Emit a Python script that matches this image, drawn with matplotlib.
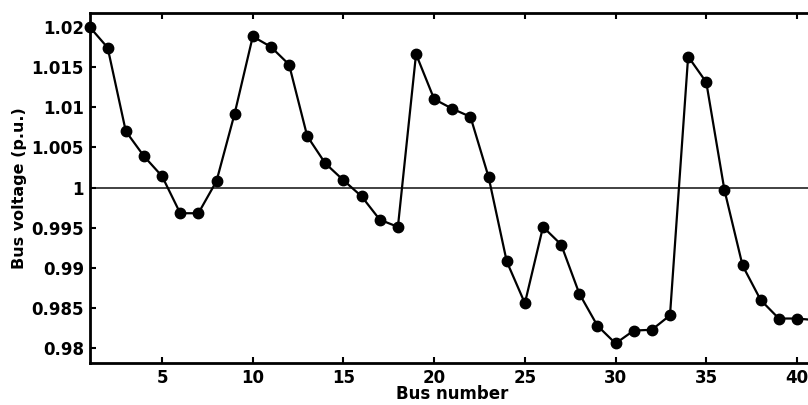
import matplotlib.pyplot as plt
import numpy as np

# bus voltage profile
bus = np.arange(1, 42)
voltage = [1.0200, 1.0174, 1.0070, 1.0039, 1.0014, 0.9968, 0.9968, 1.0008, 1.0092, 1.0188,
           1.0175, 1.0153, 1.0064, 1.0030, 1.0009, 0.9989, 0.9960, 0.9951, 1.0166, 1.0110,
           1.0098, 1.0088, 1.0013, 0.9908, 0.9856, 0.9951, 0.9929, 0.9868, 0.9828, 0.9806,
           0.9822, 0.9823, 0.9841, 1.0163, 1.0131, 0.9997, 0.9903, 0.9860, 0.9837, 0.9837,
           0.9835]
x_ticks = [5, 10, 15, 20, 25, 30, 35, 40]
y_ticks = [0.98, 0.985, 0.99, 0.995, 1.0, 1.005, 1.01, 1.015, 1.02]
y_labels = ['0.98', '0.985', '0.99', '0.995', '1', '1.005', '1.01', '1.015', '1.02']

plt.rcParams['font.family'] = ['DejaVu Sans']
plt.rcParams['font.weight'] = 'bold'

fig = plt.figure(figsize=(8.08, 4.05), dpi=100)
ax = fig.add_axes([0.1108, 0.103, 0.898, 0.864])

ax.axhline(1.0, color='#333333', linewidth=1.3, zorder=1)
ax.plot(bus, voltage, color='black', linewidth=1.6, marker='o', markersize=7.5,
        clip_on=False, zorder=3)

ax.set_xlim(1, 41)
ax.set_ylim(0.97813, 1.02167)
ax.set_xticks(x_ticks)
ax.set_yticks(y_ticks)
ax.set_yticklabels(y_labels)

ax.tick_params(direction='in', length=4, width=1.5, labelsize=12, top=True, right=True, pad=4)
for t in ax.get_xticklabels() + ax.get_yticklabels():
    t.set_fontweight('bold')
for s in ax.spines.values():
    s.set_linewidth(2)

ax.set_xlabel('Bus number', fontsize=12, fontweight='bold', labelpad=-1)
ax.set_ylabel('Bus voltage (p.u.)', fontsize=11.5, fontweight='bold', labelpad=3)

plt.savefig('out.png', dpi=100)
